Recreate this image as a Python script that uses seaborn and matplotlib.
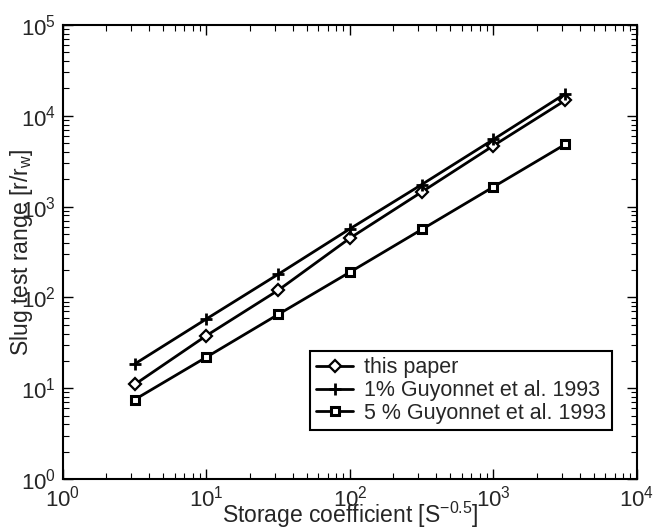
import matplotlib
matplotlib.use("Agg")
import matplotlib.pyplot as plt
import seaborn as sns
import pandas as pd
import numpy as np
from matplotlib.ticker import LogLocator, NullFormatter

# Data
storage = [3.162, 10, 31.62, 100, 316.2, 1000, 3162]
this_paper = [11, 38, 120, 450, 1450, 4700, 14800]
guy_1pct = [18.5, 58, 180, 570, 1750, 5500, 17500]
guy_5pct = [7.5, 22, 65, 190, 560, 1650, 4850]
labels = ["this paper", "1% Guyonnet et al. 1993", "5 % Guyonnet et al. 1993"]

sns.set_style("ticks")
plt.rcParams["font.family"] = ["Liberation Sans", "DejaVu Sans"]
plt.rcParams["mathtext.default"] = "regular"
plt.rcParams["xtick.direction"] = "in"
plt.rcParams["ytick.direction"] = "in"

fig = plt.figure(figsize=(6.54, 5.29), dpi=100)
ax = fig.add_axes([0.0963, 0.0945, 0.8777, 0.8582])

df = pd.DataFrame({
    "x": storage * 3,
    "y": this_paper + guy_1pct + guy_5pct,
    "series": [labels[0]] * 7 + [labels[1]] * 7 + [labels[2]] * 7,
})

styles = {
    labels[0]: dict(marker="D", markersize=6.5, markerfacecolor="white", markeredgewidth=1.6),
    labels[1]: dict(marker="+", markersize=8, markeredgewidth=2),
    labels[2]: dict(marker="s", markersize=5.5, markerfacecolor="white", markeredgewidth=2.2),
}
for lab in labels:
    sub = df[df["series"] == lab]
    sns.lineplot(data=sub, x="x", y="y", ax=ax, color="black", linewidth=2,
                 markeredgecolor="black", label=lab, **styles[lab])

ax.set_xscale("log")
ax.set_yscale("log")
ax.set_xlim(1, 1e4)
ax.set_ylim(1, 1e5)
ax.xaxis.set_major_locator(LogLocator(base=10, numticks=10))
ax.yaxis.set_major_locator(LogLocator(base=10, numticks=10))
ax.xaxis.set_minor_locator(LogLocator(base=10, subs=np.arange(2, 10), numticks=20))
ax.yaxis.set_minor_locator(LogLocator(base=10, subs=np.arange(2, 10), numticks=20))
ax.xaxis.set_minor_formatter(NullFormatter())
ax.yaxis.set_minor_formatter(NullFormatter())
ax.tick_params(which="both", top=True, right=True, direction="in", color="black")
ax.tick_params(which="major", length=7, width=1, labelsize=16, pad=5)
ax.tick_params(which="minor", length=4, width=0.8)
for s in ax.spines.values():
    s.set_linewidth(1.5)
    s.set_color("black")

ax.set_xlabel("Storage coefficient [S$^{-0.5}$]", fontsize=16.5, labelpad=-9)
ax.set_ylabel("Slug test range [r/r$_w$]", fontsize=16.5, labelpad=-10)

leg = ax.legend(loc="upper left", bbox_to_anchor=(0.43, 0.282), frameon=True,
                fancybox=False, edgecolor="black", fontsize=15.5, handlelength=1.7,
                borderpad=0.3, labelspacing=0.08, handletextpad=0.5, borderaxespad=0)
leg.get_frame().set_linewidth(1.5)
leg.get_frame().set_alpha(1)

fig.savefig("out.png", dpi=100, facecolor="white")
